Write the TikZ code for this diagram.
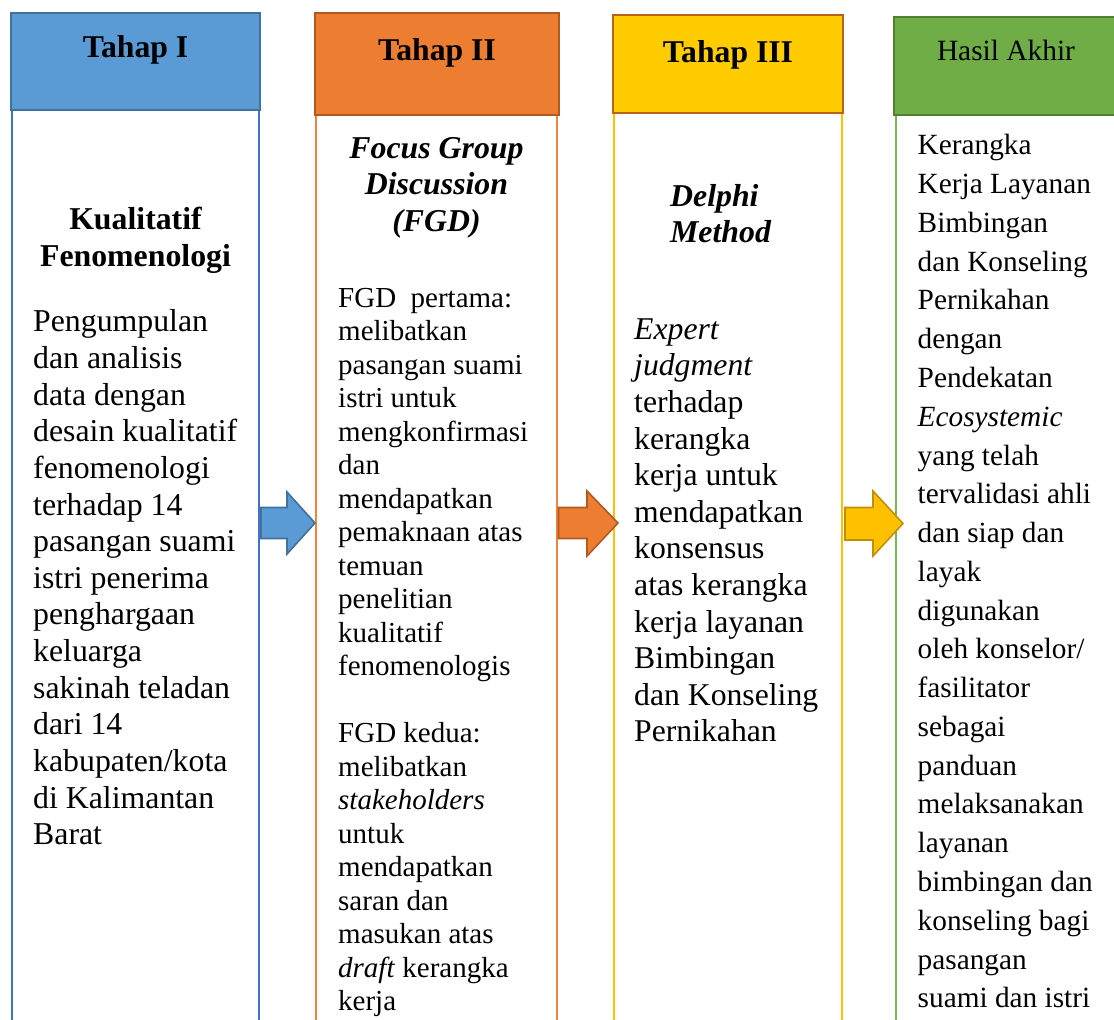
\documentclass[tikz,border=0pt]{standalone}
\usepackage{fontspec}
\setmainfont{Liberation Serif}

% palette
\definecolor{blueFill}{HTML}{5B9BD5}
\definecolor{blueEdge}{HTML}{41719C}
\definecolor{blueRule}{HTML}{4472C4}
\definecolor{orangeFill}{HTML}{ED7D31}
\definecolor{orangeEdge}{HTML}{AE5A21}
\definecolor{orangeRule}{HTML}{EF8540}
\definecolor{yellowFill}{HTML}{FFCC00}
\definecolor{yellowEdge}{HTML}{B9621C}
\definecolor{yellowRule}{HTML}{FFC000}
\definecolor{arrowYellow}{HTML}{FFC000}
\definecolor{arrowYellowEdge}{HTML}{BF9000}
\definecolor{greenFill}{HTML}{70AD47}
\definecolor{greenEdge}{HTML}{507E32}
\definecolor{greenRule}{HTML}{7DB65A}

\tikzset{
  headbox/.style 2 args={draw=#2, fill=#1, line width=2pt},
  siderule/.style={draw=#1, line width=2pt},
  blockarrow/.style 2 args={fill=#1, draw=#2, line width=1.6pt, line join=miter},
  headtext/.style={anchor=base, inner sep=0pt, font=\fontsize{31.7}{36}\selectfont\bfseries},
  bodyA/.style={anchor=north west, inner sep=0pt, align=left,
    font=\fontsize{31.8}{36.64}\selectfont},
  bodyB/.style={anchor=north west, inner sep=0pt, align=left,
    font=\fontsize{29}{33.5}\selectfont},
  bodyC/.style={anchor=north west, inner sep=0pt, align=left,
    font=\fontsize{31.7}{36.6}\selectfont},
  bodyD/.style={anchor=north west, inner sep=0pt, align=left,
    font=\fontsize{29.3}{38.77}\selectfont},
}

\begin{document}
\begin{tikzpicture}[x=1pt,y=-1pt]
\useasboundingbox (0,0) rectangle (1114,1020);
\clip (0,0) rectangle (1114,1020);

% ---- column frames: side rules below each header ----
\draw[siderule=blueRule]   (12,110) -- (12,1030);
\draw[siderule=blueRule]   (259,110) -- (259,1030);
\draw[siderule=orangeRule] (316,115) -- (316,1030);
\draw[siderule=orangeRule] (557,115) -- (557,1030);
\draw[siderule=yellowRule] (614,113) -- (614,1030);
\draw[siderule=yellowRule] (841.5,113) -- (841.5,1030);
\draw[siderule=greenRule]  (896,115) -- (896,1030);
\draw[siderule=greenRule]  (1116,115) -- (1116,1030);

% ---- headers ----
\draw[headbox={blueFill}{blueEdge}]     (11,13)    rectangle (260,110);
\draw[headbox={orangeFill}{orangeEdge}] (315,13)   rectangle (559,115);
\draw[headbox={yellowFill}{yellowEdge}] (613,15.3) rectangle (842.7,113);
\draw[headbox={greenFill}{greenEdge}]   (894.3,16.7) rectangle (1118,115);

\node[headtext] (h1) at (135.5,57) {Tahap I};
\node[headtext] (h2) at (437,60) {Tahap II};
\node[headtext] (h3) at (728,62) {Tahap III};
\node[headtext, font=\fontsize{29.4}{34}\selectfont] (h4) at (1006,60) {Hasil Akhir};

% ---- block arrows between the stages ----
\draw[blockarrow={blueFill}{blueEdge}]
  (261,507.5) -- (287,507.5) -- (287,492) -- (315,523) -- (287,554) -- (287,538.5) -- (261,538.5) -- cycle;
\draw[blockarrow={orangeFill}{orangeEdge}]
  (558.5,507.5) -- (587,507.5) -- (587,491) -- (618,523) -- (587,556) -- (587,538.5) -- (558.5,538.5) -- cycle;
\draw[blockarrow={arrowYellow}{arrowYellowEdge}]
  (845,507.5) -- (873,507.5) -- (873,491) -- (903,523.5) -- (873,556) -- (873,540) -- (845,540) -- cycle;

% ---- stage I ----
\node[anchor=north, inner sep=0pt, align=center,
      font=\fontsize{31.8}{36.6}\selectfont\bfseries] (t1) at (135.5,204)
  {\strut Kualitatif\\Fenomenologi};
\node[bodyA] (b1) at (33,306)
  {\strut Pengumpulan\\dan analisis\\data dengan\\desain kualitatif\\fenomenologi\\terhadap 14\\pasangan suami\\istri penerima\\penghargaan\\keluarga\\sakinah teladan\\dari 14\\kabupaten/kota\\di Kalimantan\\Barat};

% ---- stage II ----
\node[anchor=north, inner sep=0pt, align=center,
      font=\fontsize{31.8}{36.5}\selectfont\bfseries\itshape] (t2) at (436.5,132.5)
  {\strut Focus Group\\Discussion\\(FGD)};
\node[bodyB] (b2) at (338,283.5)
  {\strut FGD\ \ pertama:\\melibatkan\\pasangan suami\\istri untuk\\mengkonfirmasi\\dan\\mendapatkan\\pemaknaan atas\\temuan\\penelitian\\kualitatif\\fenomenologis\\\mbox{}\\FGD kedua:\\melibatkan\\\textit{stakeholders}\\untuk\\mendapatkan\\saran dan\\masukan atas\\\textit{draft} kerangka\\kerja};

% ---- stage III ----
\node[anchor=north west, inner sep=0pt, align=left,
      font=\fontsize{31.8}{36}\selectfont\bfseries\itshape] (t3) at (670,181.5)
  {\strut Delphi\\Method};
\node[bodyC] (b3) at (634,313.5)
  {\strut\textit{Expert}\\\textit{judgment}\\terhadap\\kerangka\\kerja untuk\\mendapatkan\\konsensus\\atas kerangka\\kerja layanan\\Bimbingan\\dan Konseling\\Pernikahan};

% ---- final result ----
\node[bodyD] (b4) at (917.5,127.5)
  {\strut Kerangka\\Kerja Layanan\\Bimbingan\\dan Konseling\\Pernikahan\\dengan\\Pendekatan\\\textit{Ecosystemic}\\yang telah\\tervalidasi ahli\\dan siap dan\\layak\\digunakan\\oleh konselor/\\fasilitator\\sebagai\\panduan\\melaksanakan\\layanan\\bimbingan dan\\konseling bagi\\pasangan\\suami dan istri};

\end{tikzpicture}
\end{document}
